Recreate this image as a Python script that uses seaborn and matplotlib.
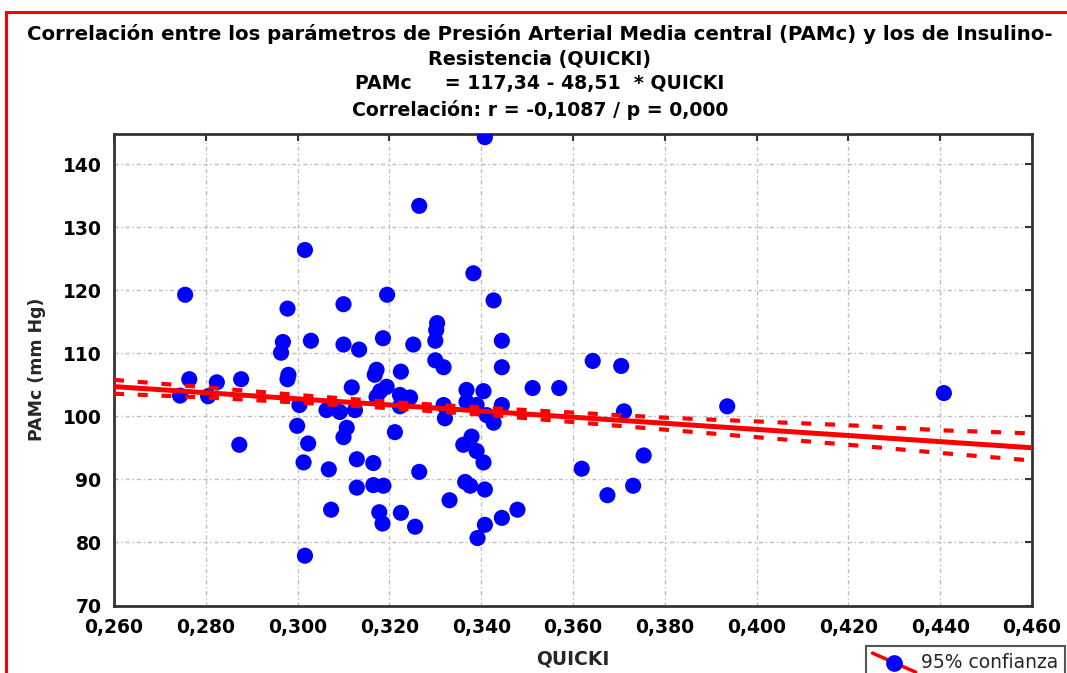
import numpy as np
import pandas as pd
import matplotlib
matplotlib.use("Agg")
import matplotlib.pyplot as plt
import seaborn as sns
from matplotlib.lines import Line2D
from matplotlib.legend_handler import HandlerBase
from matplotlib.patches import Rectangle

# ---------------- data ----------------
quicki = [0.3408, 0.3265, 0.3016, 0.3383, 0.2755, 0.2978, 0.3100, 0.3195, 0.3427, 0.3304,
          0.3302, 0.3300, 0.2968, 0.2964, 0.3029, 0.3100, 0.3134, 0.3186, 0.3252, 0.3445,
          0.3300, 0.3318, 0.3445, 0.2980, 0.2978, 0.3172, 0.3168, 0.3225, 0.3512, 0.2764,
          0.2824, 0.2877, 0.2744, 0.2805, 0.3118, 0.3194, 0.3172, 0.3223, 0.3180, 0.3245,
          0.3368, 0.3405, 0.3368, 0.3390, 0.3445, 0.3318, 0.3004, 0.3063, 0.3092, 0.3125,
          0.3223, 0.3321, 0.3427, 0.3412, 0.2999, 0.3107, 0.3100, 0.3212, 0.2873, 0.3023,
          0.3361, 0.3379, 0.3390, 0.3405, 0.3013, 0.3068, 0.3129, 0.3165, 0.3265, 0.3129,
          0.3165, 0.3187, 0.3365, 0.3376, 0.3408, 0.3331, 0.3073, 0.3178, 0.3185, 0.3225,
          0.3256, 0.3408, 0.3445, 0.3479, 0.3392, 0.3016, 0.3643, 0.3705, 0.3570, 0.3936,
          0.4408, 0.3711, 0.3619, 0.3754, 0.3675, 0.3731]
pamc = [144.3, 133.4, 126.4, 122.7, 119.3, 117.1, 117.8, 119.3, 118.4, 114.8,
        113.7, 112.0, 111.8, 110.1, 112.0, 111.4, 110.6, 112.4, 111.4, 112.0,
        108.9, 107.8, 107.8, 106.6, 105.9, 107.4, 106.6, 107.1, 104.5, 105.9,
        105.4, 105.9, 103.3, 103.2, 104.6, 104.7, 103.1, 103.4, 104.0, 103.0,
        104.2, 104.0, 102.3, 101.8, 101.8, 101.8, 101.8, 101.0, 100.7, 101.0,
        101.6, 99.7, 99.0, 100.2, 98.5, 98.2, 96.7, 97.5, 95.5, 95.7,
        95.5, 96.8, 94.5, 92.7, 92.7, 91.6, 93.2, 92.6, 91.2, 88.7,
        89.1, 89.0, 89.6, 89.0, 88.4, 86.7, 85.2, 84.8, 83.0, 84.7,
        82.5, 82.8, 83.9, 85.2, 80.7, 77.9, 108.8, 108.0, 104.5, 101.6,
        103.7, 100.8, 91.7, 93.8, 87.5, 89.0]

fit_intercept = 117.34
fit_slope = -48.51

ci_x = [0.26, 0.28, 0.30, 0.32, 0.34, 0.36, 0.38, 0.40, 0.42, 0.44, 0.46]
ci_upper = [105.8, 104.6, 103.4, 102.3, 101.4, 100.6, 99.8, 99.2, 98.6, 97.8, 97.3]
ci_lower = [103.6, 103.0, 102.2, 101.3, 100.3, 99.1, 97.9, 96.7, 95.5, 94.2, 93.0]

x_ticks = [0.26, 0.28, 0.30, 0.32, 0.34, 0.36, 0.38, 0.40, 0.42, 0.44, 0.46]
x_tick_labels = ["0,260", "0,280", "0,300", "0,320", "0,340", "0,360",
                 "0,380", "0,400", "0,420", "0,440", "0,460"]
y_ticks = [70, 80, 90, 100, 110, 120, 130, 140]
y_tick_labels = ["70", "80", "90", "100", "110", "120", "130", "140"]

title_lines = [
    "Correlación entre los parámetros de Presión Arterial Media central (PAMc) y los de Insulino-",
    "Resistencia (QUICKI)",
    "PAMc     = 117,34 - 48,51  * QUICKI",
    "Correlación: r = -0,1087 / p = 0,000",
]
x_label = "QUICKI"
y_label = "PAMc (mm Hg)"
legend_label = "95% confianza"

# ---------------- figure ----------------
sns.set_theme(style="white")
plt.rcParams["font.family"] = ["DejaVu Sans"]

W, H = 1067, 673
fig = plt.figure(figsize=(W / 100, H / 100), dpi=100)
fig.patch.set_facecolor("white")
ax = fig.add_axes([114 / W, 1 - 605.5 / H, (1032 - 114) / W, (605.5 - 134) / H])
ax.set_facecolor("white")

df = pd.DataFrame({"QUICKI": quicki, "PAMc": pamc})
sns.scatterplot(data=df, x="QUICKI", y="PAMc", ax=ax, color="#0000ff",
                s=135, edgecolor="none", linewidth=0, zorder=3, legend=False)

fit_x = np.array([x_ticks[0], x_ticks[-1]])
ax.plot(fit_x, fit_intercept + fit_slope * fit_x, color="#ff0000", lw=3.6,
        solid_capstyle="butt", zorder=5)
ax.plot(ci_x, ci_upper, color="#ff0000", lw=3, linestyle=(0, (2.4, 3.3)), zorder=4)
ax.plot(ci_x, ci_lower, color="#ff0000", lw=3, linestyle=(0, (2.4, 3.3)), zorder=4)

ax.set_xlim(x_ticks[0], x_ticks[-1])
ax.set_ylim(70, 144.8)
ax.set_xticks(x_ticks)
ax.set_xticklabels(x_tick_labels)
ax.set_yticks(y_ticks)
ax.set_yticklabels(y_tick_labels)

ax.grid(True, color="#bdbdbd", lw=1, linestyle=(0, (3, 2, 1, 2)))
ax.set_axisbelow(True)
for sp in ax.spines.values():
    sp.set_color("#333333")
    sp.set_linewidth(2)
    sp.set_visible(True)
ax.tick_params(axis="both", which="major", direction="in", top=True, right=True,
               length=5, width=1.5, color="#333333", labelsize=13.5, pad=9,
               labelcolor="black")
for lab in ax.get_xticklabels() + ax.get_yticklabels():
    lab.set_fontweight("bold")

ax.set_xlabel(x_label, fontsize=13.5, fontweight="bold", labelpad=9)
ax.set_ylabel(y_label, fontsize=12.5, fontweight="bold", labelpad=12)

# titles
title_y = [34, 59, 84, 110]
title_sizes = [14.2, 13.8, 13.6, 13.6]
for txt, yy, fs in zip(title_lines, title_y, title_sizes):
    fig.text(540 / W, 1 - yy / H, txt, ha="center", va="center",
             fontsize=fs, fontweight="bold", color="black")

# red frame
fig.patches.append(Rectangle((5.5 / W, -0.2), 2.0, 1.2 - 11.5 / H,
                             transform=fig.transFigure, fill=False,
                             edgecolor="#ff0000", lw=2.2, zorder=10))


class DiagHandler(HandlerBase):
    def create_artists(self, legend, orig_handle, xdescent, ydescent, width,
                       height, fontsize, trans):
        x0, x1 = -xdescent, -xdescent + width
        y0, y1 = -ydescent + height * 1.1, -ydescent - height * 0.35
        line = Line2D([x0, x1], [y0, y1], color="#ff0000", lw=2.5, transform=trans)
        dot = Line2D([(x0 + x1) / 2], [(y0 + y1) / 2], marker="o", ms=11,
                     color="#0000ff", mec="#0000ff", ls="", transform=trans)
        return [line, dot]


proxy = Line2D([], [])
leg = fig.legend([proxy], [legend_label], handler_map={proxy: DiagHandler()},
                 loc="upper left", bbox_to_anchor=(866 / W, 1 - 646 / H),
                 bbox_transform=fig.transFigure, borderaxespad=0, borderpad=0.35,
                 handlelength=2.3, handletextpad=0.3, fancybox=False,
                 edgecolor="#555555", framealpha=1, fontsize=13.5)
leg.get_frame().set_linewidth(1.5)

fig.savefig("out.png", dpi=100)
